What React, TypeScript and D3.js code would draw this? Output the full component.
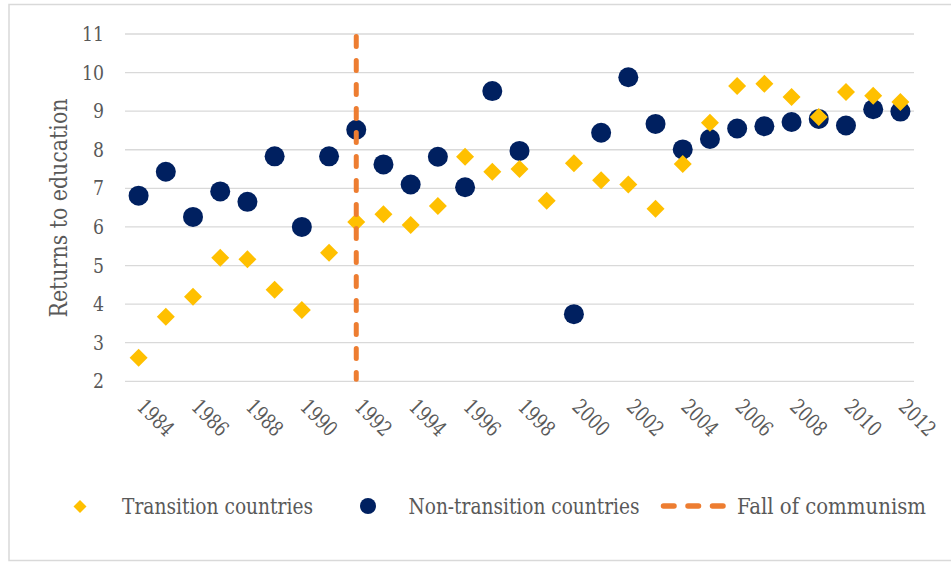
import * as d3 from 'd3';

const years = [
  1984, 1985, 1986, 1987, 1988, 1989, 1990, 1991, 1992, 1993, 1994, 1995, 1996, 1997, 1998,
  1999, 2000, 2001, 2002, 2003, 2004, 2005, 2006, 2007, 2008, 2009, 2010, 2011, 2012,
];

const transition = [
  2.61, 3.67, 4.19, 5.2, 5.16, 4.37, 3.85, 5.33, 6.13, 6.33, 6.05, 6.54, 7.82, 7.43, 7.5,
  6.68, 7.65, 7.21, 7.1, 6.47, 7.63, 8.7, 9.65, 9.71, 9.37, 8.85, 9.5, 9.4, 9.24,
];

const nonTransition: (number | null)[] = [
  6.81, 7.43, 6.26, 6.92, 6.65, 7.83, 6.0, 7.83, 8.52, 7.62, 7.1, 7.82, 7.03, 9.52, 7.97,
  null, 3.74, 8.44, 9.88, 8.67, 8.01, 8.28, 8.55, 8.61, 8.72, 8.8, 8.63, 9.05, 8.99,
];

const yTicks = [2, 3, 4, 5, 6, 7, 8, 9, 10, 11];
const xTickLabels = years.filter(y => y % 2 === 0);
const fallYear = 1992;

const W = 951;
const H = 565;
const FONT = "'DejaVu Serif Condensed', 'DejaVu Serif', serif";
const TEXT = '#595959';
const GOLD = '#FFC000';
const NAVY = '#002060';
const ORANGE = '#ED7D31';
const GRID = '#d9d9d9';

const App = () => {
  const x = d3.scaleBand<number>().domain(years).range([125, 914]);
  const cx = (yr: number) => (x(yr) ?? 0) + x.bandwidth() / 2;
  const y = d3.scaleLinear().domain([2, 11]).range([381.3, 34]);

  const diamond = d3.symbol().type(d3.symbolSquare).size(162)();
  const legendDiamond = d3.symbol().type(d3.symbolSquare).size(85)();

  return (
    <svg
      width={W}
      height={H}
      style={{ position: 'absolute', left: 0, top: 0, background: '#fff', fontFamily: FONT }}
    >
      <rect x={9} y={4.5} width={945} height={556} fill="#fff" stroke={GRID} strokeWidth={1.5} />

      {/* gridlines */}
      {yTicks.map(t => (
        <line key={t} x1={125} x2={914} y1={y(t)} y2={y(t)} stroke={GRID} strokeWidth={1.3} />
      ))}

      {/* y tick labels */}
      {yTicks.map(t => (
        <text
          key={t}
          x={104}
          y={y(t)}
          textAnchor="end"
          dominantBaseline="central"
          fontSize={21}
          textLength={t >= 10 ? 22 : 11}
          lengthAdjust="spacingAndGlyphs"
          fill={TEXT}
        >
          {t}
        </text>
      ))}

      <text
        transform={`translate(59,208) rotate(-90)`}
        textAnchor="middle"
        dominantBaseline="central"
        fontSize={24}
        textLength={219}
        lengthAdjust="spacingAndGlyphs"
        fill={TEXT}
      >
        Returns to education
      </text>

      {/* x tick labels */}
      {xTickLabels.map(yr => (
        <text
          key={yr}
          transform={`translate(${cx(yr) + 17},418) rotate(45)`}
          textAnchor="middle"
          dominantBaseline="central"
          fontSize={21}
          textLength={42}
          lengthAdjust="spacingAndGlyphs"
          fill={TEXT}
        >
          {yr}
        </text>
      ))}

      {/* non-transition circles */}
      {nonTransition.map((v, i) =>
        v == null ? null : <circle key={i} cx={cx(years[i])} cy={y(v)} r={10} fill={NAVY} />
      )}

      {/* transition diamonds */}
      {transition.map((v, i) => (
        <path
          key={i}
          d={diamond!}
          transform={`translate(${cx(years[i])},${y(v)}) rotate(45)`}
          fill={GOLD}
        />
      ))}

      {/* fall of communism */}
      <line
        x1={cx(fallYear)}
        x2={cx(fallYear)}
        y1={y(11) + 2.5}
        y2={y(2) - 2}
        stroke={ORANGE}
        strokeWidth={5}
        strokeDasharray="10 14"
        strokeLinecap="round"
      />

      {/* legend */}
      <path d={legendDiamond!} transform="translate(80,506.5) rotate(45)" fill={GOLD} />
      <text
        x={122}
        y={506}
        dominantBaseline="central"
        fontSize={22.5}
        textLength={191}
        lengthAdjust="spacingAndGlyphs"
        fill={TEXT}
      >
        Transition countries
      </text>
      <circle cx={368} cy={506} r={8} fill={NAVY} />
      <text
        x={408.5}
        y={506}
        dominantBaseline="central"
        fontSize={22.5}
        textLength={231}
        lengthAdjust="spacingAndGlyphs"
        fill={TEXT}
      >
        Non-transition countries
      </text>
      <line
        x1={663.5}
        x2={724}
        y1={506}
        y2={506}
        stroke={ORANGE}
        strokeWidth={5.5}
        strokeDasharray="10.5 14"
        strokeLinecap="round"
      />
      <text
        x={737}
        y={506}
        dominantBaseline="central"
        fontSize={22.5}
        textLength={189}
        lengthAdjust="spacingAndGlyphs"
        fill={TEXT}
      >
        Fall of communism
      </text>
    </svg>
  );
};

export default App;
